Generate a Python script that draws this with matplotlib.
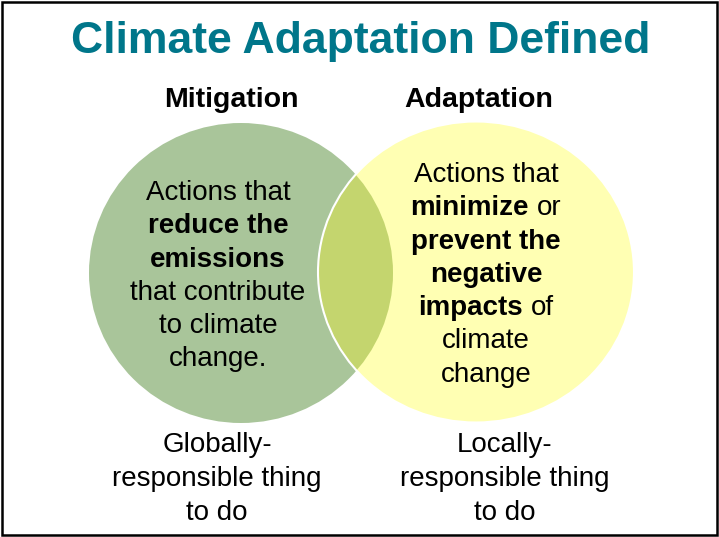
import matplotlib
matplotlib.use("Agg")
import matplotlib.pyplot as plt
from matplotlib.patches import Ellipse, Rectangle

# ---- content ----
title = "Climate Adaptation Defined"
headings = ["Mitigation", "Adaptation"]
left_lines = [[("Actions that", False)], [("reduce the", True)], [("emissions", True)],
              [("that contribute", False)], [("to climate", False)], [("change.", False)]]
right_lines = [[("Actions that", False)], [("minimize", True), ("or", False)],
               [("prevent the", True)], [("negative", True)], [("impacts", True), ("of", False)],
               [("climate", False)], [("change", False)]]
left_foot = ["Globally-", "responsible thing", "to do"]
right_foot = ["Locally-", "responsible thing", "to do"]

# ---- layout / style ----
W, H = 719, 537
FONT = "Liberation Sans"
GREEN = "#A9C59A"
YELLOW = "#FFFFB3"
LENS = "#C4D56E"
TEAL = "#00768A"
BODY = 20
LINE = 33.3
DY = 3

fig = plt.figure(figsize=(W / 100, H / 100), dpi=100)
ax = fig.add_axes([0, 0, 1, 1])
ax.set_xlim(0, W)
ax.set_ylim(H, 0)
ax.axis("off")

left = Ellipse((241, 273), 304, 300, facecolor=GREEN, edgecolor="none", zorder=1)
right = Ellipse((476, 272), 316, 301, facecolor=YELLOW, edgecolor="none", zorder=2)
ax.add_patch(left)
ax.add_patch(right)
lens = Ellipse((241, 273), 304, 300, facecolor=LENS, edgecolor="none", zorder=3)
ax.add_patch(lens)
lens.set_clip_path(right)
ax.add_patch(Ellipse((476, 272), 316, 301, facecolor="none", edgecolor="white", lw=1.5, zorder=4))

ax.text(361, 38 + DY, title, ha="center", va="center", fontsize=32, fontweight="bold",
        color=TEAL, family=FONT)
ax.text(231, 97 + DY, headings[0], ha="center", va="center", fontsize=20.5, fontweight="bold",
        color="black", family=FONT)
ax.text(479, 97 + DY, headings[1], ha="center", va="center", fontsize=20.5, fontweight="bold",
        color="black", family=FONT)

renderer = fig.canvas.get_renderer()
space_px = 0.278 * BODY * 100 / 72


def draw_line(pieces, cx, y):
    texts = []
    for s, bold in pieces:
        t = ax.text(0, y, s, ha="left", va="center", fontsize=BODY,
                    fontweight="bold" if bold else "normal", color="black",
                    family=FONT, zorder=5)
        texts.append(t)
    widths = [t.get_window_extent(renderer).width for t in texts]
    total = sum(widths) + space_px * (len(texts) - 1)
    x = cx - total / 2
    for t, w in zip(texts, widths):
        t.set_x(x)
        x += w + space_px


for i, pieces in enumerate(left_lines):
    draw_line(pieces, 218, 190 + DY + i * LINE)
for i, pieces in enumerate(right_lines):
    draw_line(pieces, 486, 172 + DY + i * LINE)
for i, s in enumerate(left_foot):
    ax.text(217, 442 + DY + i * 34, s, ha="center", va="center", fontsize=BODY,
            color="black", family=FONT)
for i, s in enumerate(right_foot):
    ax.text(505, 442 + DY + i * 34, s, ha="center", va="center", fontsize=BODY,
            color="black", family=FONT)

ax.add_patch(Rectangle((2, 2), W - 4, H - 4, facecolor="none", edgecolor="black",
                       lw=1.8, zorder=6))

fig.savefig("out.png", dpi=100)
